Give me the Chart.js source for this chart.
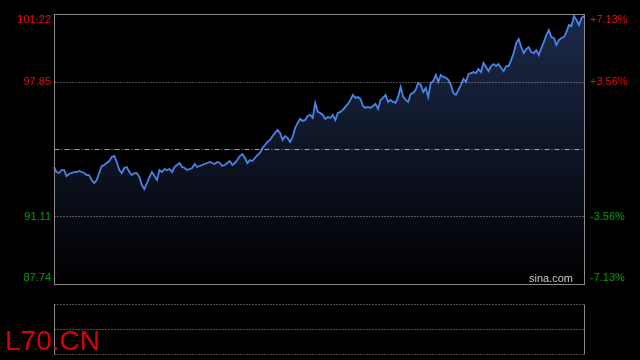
<!DOCTYPE html>
<html>
<head>
<meta charset="utf-8">
<script src="https://cdn.jsdelivr.net/npm/chart.js@4/dist/chart.umd.min.js"></script>
<style>
  html, body { margin: 0; padding: 0; background: #000; }
  #caja { width: 640px; height: 360px; }
</style>
</head>
<body>
<div id="caja"><canvas id="miGrafico"></canvas></div>
<script>
// Precios intradía
var precios = [
  93.58, 93.33, 93.28, 93.43, 93.43, 93.13, 93.23, 93.28, 93.33, 93.33,
  93.38, 93.33, 93.28, 93.18, 93.18, 92.93, 92.78, 92.93, 93.28, 93.63,
  93.68, 93.78, 93.88, 94.08, 94.13, 93.83, 93.43, 93.28, 93.53, 93.58,
  93.33, 93.18, 93.28, 93.28, 93.08, 92.68, 92.48, 92.78, 93.08, 93.33,
  93.13,
  92.93, 93.43, 93.33, 93.48, 93.43, 93.48, 93.33, 93.58, 93.68, 93.78,
  93.58, 93.53, 93.43, 93.48, 93.53, 93.73, 93.58, 93.63, 93.68, 93.73,
  93.78, 93.83, 93.78, 93.73, 93.83, 93.78, 93.63, 93.68, 93.78, 93.88,
  93.68, 93.78, 93.93, 94.13, 94.23, 94.03, 93.78, 93.93, 93.88, 94.03,
  94.18, 94.28, 94.53,
  94.68, 94.83, 94.93, 95.13, 95.28, 95.43, 95.28, 94.93, 95.13, 95.03,
  94.83, 95.08, 95.53, 95.78, 95.98, 95.88, 95.93, 96.13, 96.18, 96.03,
  96.78, 96.33, 96.28, 96.18, 95.98, 96.08, 96.03, 96.18, 95.93, 96.28,
  96.33, 96.43, 96.58, 96.73, 96.93, 97.18, 97.03, 97.08, 96.98, 96.63,
  96.53,
  96.58, 96.53, 96.63, 96.73, 96.48, 96.93, 97.03, 97.18, 96.83, 96.93,
  96.83, 96.78, 97.08, 97.58, 97.08, 96.93, 96.83, 97.23, 97.28, 97.43,
  97.78, 97.68, 97.33, 97.53, 97.08, 97.78, 97.88, 98.18, 97.83, 98.18,
  98.08, 98.03, 97.93, 97.68, 97.28, 97.18, 97.43, 97.68, 97.98, 97.83,
  98.22,
  98.27, 98.32, 98.27, 98.47, 98.32, 98.77, 98.57, 98.37, 98.62, 98.72,
  98.62, 98.72, 98.52, 98.37, 98.62, 98.62, 98.92, 99.27, 99.77, 99.97,
  99.57, 99.27, 99.47, 99.57, 99.32, 99.27, 99.42, 99.17, 99.52, 99.82,
  100.17, 100.42, 100.07, 100.02, 99.67, 99.92, 100.02, 100.07, 100.32, 100.67,
  100.62, 101.12, 100.92, 100.67, 101.02, 101.12
];

// Etiquetas de los ejes
var preciosEje = [101.22, 97.85, 94.48, 91.11, 87.74];
var porcentajesEje = ['+7.13%', '+3.56%', '', '-3.56%', '-7.13%'];
var cierreAnterior = 94.48;
var simbolo = 'L70.CN';
var marcaAgua = 'sina.com';

var fuente = '"Liberation Sans", Arial, sans-serif';

// Plugin para el marco, la rejilla y los textos
var marco = {
  id: 'marco',
  beforeDraw: function (chart) {
    var c = chart.ctx;
    c.save();
    c.fillStyle = '#000';
    c.fillRect(0, 0, chart.width, chart.height);
    c.restore();
  },
  afterDatasetsDraw: function (chart) {
    var c = chart.ctx;
    var a = chart.chartArea;
    var y = chart.scales.y;
    var izq = Math.round(a.left) + 0.5;
    var der = Math.round(a.right) + 0.5;
    c.save();
    c.lineWidth = 1;

    // líneas de la rejilla
    preciosEje.forEach(function (v, i) {
      if (i == 0 || i == preciosEje.length - 1) return;
      var py = Math.round(y.getPixelForValue(v)) + 0.5;
      c.beginPath();
      if (v == cierreAnterior) {
        c.setLineDash([5, 2, 1, 2]);
        c.strokeStyle = '#a0a0a0';
      } else {
        c.setLineDash([1, 2]);
        c.strokeStyle = '#9a9a9a';
      }
      c.moveTo(izq, py);
      c.lineTo(der, py);
      c.stroke();
    });

    // borde del gráfico principal
    c.setLineDash([]);
    c.strokeStyle = '#8a8a8a';
    c.strokeRect(izq, Math.round(a.top) + 0.5, der - izq, Math.round(a.bottom - a.top));

    // etiquetas de precio y porcentaje
    c.font = '11px ' + fuente;
    c.textBaseline = 'middle';
    preciosEje.forEach(function (v, i) {
      if (v == cierreAnterior) return;
      var py = y.getPixelForValue(v);
      if (i == 0) py += 6;
      if (i == preciosEje.length - 1) py -= 6;
      c.fillStyle = v > cierreAnterior ? '#e01010' : '#00a000';
      c.textAlign = 'right';
      c.fillText(v.toFixed(2), a.left - 3, py);
      c.textAlign = 'left';
      c.fillText(porcentajesEje[i], a.right + 6, py);
    });

    // marca de agua
    c.fillStyle = '#c8c8c8';
    c.textAlign = 'right';
    c.fillText(marcaAgua, a.right - 11, a.bottom - 5);

    // panel de volumen (vacío)
    var vTop = Math.round(a.bottom) + 20.5;
    var vBot = Math.round(a.bottom) + 70.5;
    var vMid = (vTop + vBot) / 2;
    c.strokeStyle = '#8a8a8a';
    c.beginPath();
    c.moveTo(izq, vTop); c.lineTo(izq, vBot);
    c.moveTo(der, vTop); c.lineTo(der, vBot);
    c.stroke();
    c.setLineDash([1, 2]);
    c.strokeStyle = '#9a9a9a';
    c.beginPath();
    [vTop, vMid, vBot].forEach(function (py) {
      c.moveTo(izq, py);
      c.lineTo(der, py);
    });
    c.stroke();
    c.setLineDash([]);

    // símbolo
    c.font = '28px ' + fuente;
    c.fillStyle = '#e00000';
    c.textAlign = 'left';
    c.textBaseline = 'alphabetic';
    c.fillText(simbolo, 5, 350);
    c.restore();
  }
};

var ctx = document.getElementById('miGrafico').getContext('2d');

var miGrafico = new Chart(ctx, {
  type: 'line',
  data: {
    labels: precios.map(function (p, i) { return i; }),
    datasets: [
      {
        data: precios,
        borderColor: '#4a84e8',
        borderWidth: 1.8,
        pointRadius: 0,
        tension: 0,
        fill: 'start',
        backgroundColor: function (context) {
          var a = context.chart.chartArea;
          if (!a) return null;
          var g = context.chart.ctx.createLinearGradient(0, a.top, 0, a.bottom);
          g.addColorStop(0, 'rgb(28,42,74)');
          g.addColorStop(1, 'rgb(0,0,0)');
          return g;
        }
      }
    ]
  },
  options: {
    responsive: true,
    maintainAspectRatio: false,
    animation: false,
    layout: { padding: { left: 54, right: 56, top: 14, bottom: 76 } },
    scales: {
      x: { type: 'category', display: false, offset: false },
      y: { display: false, min: 87.74, max: 101.22 }
    },
    plugins: {
      legend: { display: false },
      tooltip: { enabled: false }
    }
  },
  plugins: [marco]
});
</script>
</body>
</html>
